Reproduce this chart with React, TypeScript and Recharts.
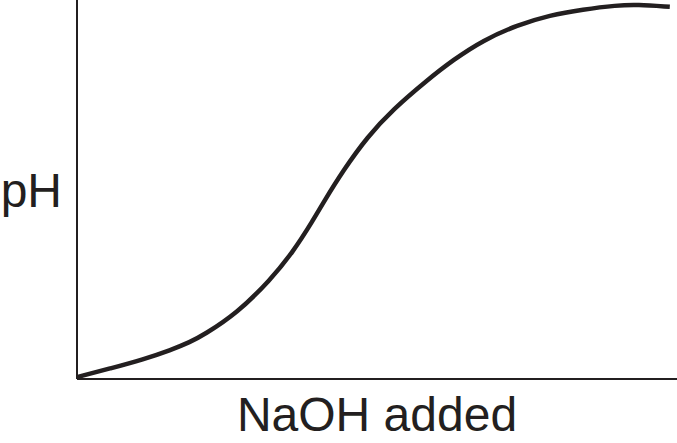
import { LineChart, Line, XAxis, YAxis, Label } from "recharts";

// NaOH added (arbitrary units, 0–100) and pH (relative, 0–100)
const naohAdded = [0, 5.6, 11.1, 15.6, 18.9, 21.1, 26.7, 32.2, 36.0, 39.4, 41.0, 44.4, 48.4, 52.7, 58.4, 62.7, 67.7, 73.4, 78.8, 84.3, 90.0, 93.3, 98.8];
const phValues = [0.5, 2.8, 5.2, 7.6, 9.8, 11.6, 17.4, 26.1, 33.5, 42.0, 46.4, 55.1, 63.9, 71.2, 78.9, 84.2, 89.4, 93.4, 96.0, 97.5, 98.6, 98.8, 98.2];

const xLabel = "NaOH added";
const yLabel = "pH";

const INK = "#231f20";
const FONT = '"Liberation Sans", Arial, Helvetica, sans-serif';

const data = naohAdded.map((x, i) => ({ x, ph: phValues[i] }));

function XTitle({ viewBox }: any) {
  const vb = viewBox ?? { x: 77, y: 379, width: 600, height: 64 };
  return (
    <text
      x={vb.x + vb.width / 2}
      y={vb.y + 52}
      textAnchor="middle"
      fontFamily={FONT}
      fontSize={48}
      fill={INK}
    >
      {xLabel}
    </text>
  );
}

function YTitle({ viewBox }: any) {
  const vb = viewBox ?? { x: 0, y: 0, width: 77, height: 379 };
  return (
    <text
      x={vb.x + vb.width - 15}
      y={vb.y + vb.height / 2 + 17}
      textAnchor="end"
      fontFamily={FONT}
      fontSize={48}
      fill={INK}
    >
      {yLabel}
    </text>
  );
}

export default function App() {
  return (
    <div style={{ position: "absolute", left: 0, top: 0, width: 677, height: 443, background: "#fff" }}>
      <LineChart width={677} height={443} data={data} margin={{ top: 0, right: 0, bottom: 0, left: 0 }}>
        <XAxis
          dataKey="x"
          type="number"
          domain={[0, 100]}
          tick={false}
          tickLine={false}
          height={64}
          axisLine={{ stroke: INK, strokeWidth: 2 }}
        >
          <Label content={<XTitle />} />
        </XAxis>
        <YAxis
          type="number"
          domain={[0, 100]}
          tick={false}
          tickLine={false}
          width={77}
          axisLine={{ stroke: INK, strokeWidth: 2 }}
        >
          <Label content={<YTitle />} />
        </YAxis>
        <Line
          type="basis"
          dataKey="ph"
          stroke={INK}
          strokeWidth={4.5}
          dot={false}
          activeDot={false}
          isAnimationActive={false}
        />
      </LineChart>
    </div>
  );
}
